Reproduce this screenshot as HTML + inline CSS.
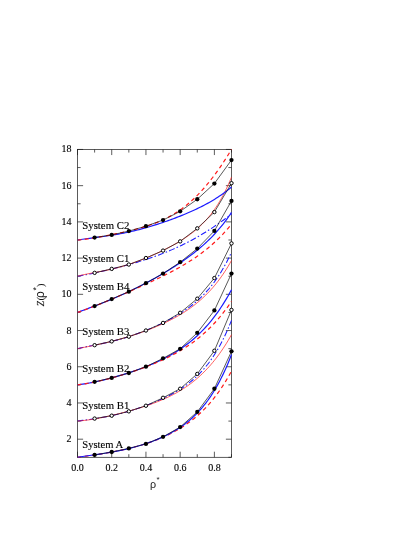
<!DOCTYPE html>
<html><head><meta charset="utf-8"><title>Z(rho*)</title>
<style>html,body{margin:0;padding:0;background:#fff;}body{width:415px;height:537px;overflow:hidden;font-family:"Liberation Serif",serif;}svg{display:block;}</style>
</head><body>
<svg width="415" height="537" viewBox="0 0 415 537" style="will-change:transform">
<rect width="415" height="537" fill="#fff"/>
<clipPath id="c"><rect x="77.50" y="148.95" width="154.79" height="308.85"/></clipPath>
<g stroke="#1c1c1c" stroke-width="0.72" fill="none">
<rect x="77.50" y="149.45" width="153.99" height="307.85"/>
<path d="M77.50,457.30v-5.6 M77.50,149.45v5.6 M94.61,457.30v-3.1 M94.61,149.45v3.1 M111.72,457.30v-5.6 M111.72,149.45v5.6 M128.83,457.30v-3.1 M128.83,149.45v3.1 M145.94,457.30v-5.6 M145.94,149.45v5.6 M163.05,457.30v-3.1 M163.05,149.45v3.1 M180.16,457.30v-5.6 M180.16,149.45v5.6 M197.27,457.30v-3.1 M197.27,149.45v3.1 M214.38,457.30v-5.6 M214.38,149.45v5.6 M231.49,457.30v-3.1 M231.49,149.45v3.1 M77.50,457.30h3.1 M231.49,457.30h-3.1 M77.50,439.19h5.6 M231.49,439.19h-5.6 M77.50,421.08h3.1 M231.49,421.08h-3.1 M77.50,402.97h5.6 M231.49,402.97h-5.6 M77.50,384.86h3.1 M231.49,384.86h-3.1 M77.50,366.76h5.6 M231.49,366.76h-5.6 M77.50,348.65h3.1 M231.49,348.65h-3.1 M77.50,330.54h5.6 M231.49,330.54h-5.6 M77.50,312.43h3.1 M231.49,312.43h-3.1 M77.50,294.32h5.6 M231.49,294.32h-5.6 M77.50,276.21h3.1 M231.49,276.21h-3.1 M77.50,258.10h5.6 M231.49,258.10h-5.6 M77.50,239.99h3.1 M231.49,239.99h-3.1 M77.50,221.89h5.6 M231.49,221.89h-5.6 M77.50,203.78h3.1 M231.49,203.78h-3.1 M77.50,185.67h5.6 M231.49,185.67h-5.6 M77.50,167.56h3.1 M231.49,167.56h-3.1 M77.50,149.45h5.6 M231.49,149.45h-5.6"/>
</g>
<g clip-path="url(#c)" fill="none" stroke-linejoin="round">
<path d="M77.50,457.30 L79.21,457.04 L80.92,456.78 L82.63,456.53 L84.34,456.28 L86.06,456.04 L87.77,455.80 L89.48,455.55 L91.19,455.31 L92.90,455.06 L94.61,454.82 L96.32,454.57 L98.03,454.31 L99.74,454.06 L101.45,453.79 L103.16,453.53 L104.88,453.25 L106.59,452.97 L108.30,452.68 L110.01,452.39 L111.72,452.09 L113.43,451.77 L115.14,451.45 L116.85,451.12 L118.56,450.78 L120.28,450.43 L121.99,450.07 L123.70,449.70 L125.41,449.32 L127.12,448.92 L128.83,448.52 L130.54,448.10 L132.25,447.67 L133.96,447.22 L135.67,446.77 L137.38,446.29 L139.10,445.81 L140.81,445.31 L142.52,444.79 L144.23,444.26 L145.94,443.71 L147.65,443.15 L149.36,442.57 L151.07,441.97 L152.78,441.35 L154.50,440.71 L156.21,440.06 L157.92,439.38 L159.63,438.68 L161.34,437.96 L163.05,437.22 L164.76,436.45 L166.47,435.66 L168.18,434.85 L169.89,434.01 L171.61,433.13 L173.32,432.24 L175.03,431.31 L176.74,430.34 L178.45,429.35 L180.16,428.32 L181.87,427.26 L183.58,426.16 L185.29,425.02 L187.00,423.84 L188.72,422.61 L190.43,421.35 L192.14,420.03 L193.85,418.67 L195.56,417.26 L197.27,415.79 L198.98,414.27 L200.69,412.69 L202.40,411.06 L204.11,409.36 L205.82,407.59 L207.54,405.75 L209.25,403.85 L210.96,401.87 L212.67,399.81 L214.38,397.67 L216.09,395.45 L217.80,393.14 L219.51,390.74 L221.22,388.25 L222.94,385.65 L224.65,382.95 L226.36,380.15 L228.07,377.23 L229.78,374.20 L231.49,371.05" stroke="#ff1a1a" stroke-width="1.2" stroke-dasharray="4 3.2"/>
<path d="M77.50,457.30 L79.21,457.02 L80.92,456.75 L82.63,456.48 L84.34,456.23 L86.06,455.98 L87.77,455.74 L89.48,455.50 L91.19,455.26 L92.90,455.02 L94.61,454.78 L96.32,454.54 L98.03,454.30 L99.74,454.05 L101.45,453.79 L103.16,453.53 L104.88,453.27 L106.59,453.00 L108.30,452.71 L110.01,452.43 L111.72,452.13 L113.43,451.82 L115.14,451.50 L116.85,451.17 L118.56,450.83 L120.28,450.48 L121.99,450.12 L123.70,449.74 L125.41,449.36 L127.12,448.96 L128.83,448.54 L130.54,448.12 L132.25,447.68 L133.96,447.23 L135.67,446.76 L137.38,446.27 L139.10,445.78 L140.81,445.26 L142.52,444.73 L144.23,444.19 L145.94,443.62 L147.65,443.04 L149.36,442.44 L151.07,441.82 L152.78,441.19 L154.50,440.53 L156.21,439.84 L157.92,439.14 L159.63,438.41 L161.34,437.66 L163.05,436.88 L164.76,436.08 L166.47,435.24 L168.18,434.38 L169.89,433.48 L171.61,432.55 L173.32,431.58 L175.03,430.58 L176.74,429.54 L178.45,428.45 L180.16,427.32 L181.87,426.15 L183.58,424.92 L185.29,423.65 L187.00,422.31 L188.72,420.92 L190.43,419.47 L192.14,417.96 L193.85,416.37 L195.56,414.72 L197.27,412.98 L198.98,411.17 L200.69,409.27 L202.40,407.29 L204.11,405.21 L205.82,403.03 L207.54,400.75 L209.25,398.36 L210.96,395.86 L212.67,393.23 L214.38,390.48 L216.09,387.60 L217.80,384.58 L219.51,381.42 L221.22,378.10 L222.94,374.62 L224.65,370.98 L226.36,367.16 L228.07,363.16 L229.78,358.98 L231.49,354.59" stroke="#1a1aff" stroke-width="1.2"/>
<path d="M77.50,421.08 L79.21,420.84 L80.92,420.61 L82.63,420.38 L84.34,420.15 L86.06,419.92 L87.77,419.68 L89.48,419.45 L91.19,419.20 L92.90,418.96 L94.61,418.70 L96.32,418.44 L98.03,418.16 L99.74,417.88 L101.45,417.59 L103.16,417.29 L104.88,416.97 L106.59,416.65 L108.30,416.31 L110.01,415.96 L111.72,415.60 L113.43,415.22 L115.14,414.83 L116.85,414.43 L118.56,414.02 L120.28,413.59 L121.99,413.15 L123.70,412.70 L125.41,412.23 L127.12,411.75 L128.83,411.26 L130.54,410.76 L132.25,410.24 L133.96,409.71 L135.67,409.17 L137.38,408.61 L139.10,408.04 L140.81,407.46 L142.52,406.86 L144.23,406.25 L145.94,405.63 L147.65,405.00 L149.36,404.34 L151.07,403.68 L152.78,403.00 L154.50,402.30 L156.21,401.59 L157.92,400.86 L159.63,400.11 L161.34,399.34 L163.05,398.55 L164.76,397.74 L166.47,396.91 L168.18,396.06 L169.89,395.18 L171.61,394.27 L173.32,393.33 L175.03,392.37 L176.74,391.37 L178.45,390.33 L180.16,389.26 L181.87,388.15 L183.58,387.00 L185.29,385.80 L187.00,384.55 L188.72,383.25 L190.43,381.90 L192.14,380.49 L193.85,379.02 L195.56,377.48 L197.27,375.86 L198.98,374.18 L200.69,372.41 L202.40,370.56 L204.11,368.63 L205.82,366.59 L207.54,364.46 L209.25,362.22 L210.96,359.87 L212.67,357.40 L214.38,354.80 L216.09,352.08 L217.80,349.21 L219.51,346.20 L221.22,343.03 L222.94,339.70 L224.65,336.20 L226.36,332.53 L228.07,328.66 L229.78,324.60 L231.49,320.33" stroke="#1a1aff" stroke-width="1.05" stroke-dasharray="6 2.2 1.5 2.2"/>
<path d="M77.50,421.08 L79.21,420.95 L80.92,420.80 L82.63,420.62 L84.34,420.43 L86.06,420.22 L87.77,419.99 L89.48,419.75 L91.19,419.49 L92.90,419.22 L94.61,418.93 L96.32,418.63 L98.03,418.31 L99.74,417.99 L101.45,417.65 L103.16,417.31 L104.88,416.95 L106.59,416.59 L108.30,416.21 L110.01,415.83 L111.72,415.44 L113.43,415.04 L115.14,414.63 L116.85,414.21 L118.56,413.79 L120.28,413.36 L121.99,412.92 L123.70,412.47 L125.41,412.02 L127.12,411.56 L128.83,411.09 L130.54,410.61 L132.25,410.12 L133.96,409.63 L135.67,409.13 L137.38,408.61 L139.10,408.09 L140.81,407.56 L142.52,407.01 L144.23,406.46 L145.94,405.89 L147.65,405.31 L149.36,404.72 L151.07,404.11 L152.78,403.49 L154.50,402.85 L156.21,402.20 L157.92,401.53 L159.63,400.84 L161.34,400.13 L163.05,399.39 L164.76,398.64 L166.47,397.86 L168.18,397.06 L169.89,396.24 L171.61,395.38 L173.32,394.50 L175.03,393.59 L176.74,392.65 L178.45,391.67 L180.16,390.67 L181.87,389.62 L183.58,388.54 L185.29,387.41 L187.00,386.25 L188.72,385.05 L190.43,383.79 L192.14,382.50 L193.85,381.15 L195.56,379.75 L197.27,378.30 L198.98,376.80 L200.69,375.24 L202.40,373.62 L204.11,371.94 L205.82,370.19 L207.54,368.38 L209.25,366.51 L210.96,364.56 L212.67,362.53 L214.38,360.44 L216.09,358.26 L217.80,356.00 L219.51,353.66 L221.22,351.23 L222.94,348.72 L224.65,346.11 L226.36,343.41 L228.07,340.61 L229.78,337.70 L231.49,334.70" stroke="#ff1a1a" stroke-width="0.7"/>
<path d="M77.50,384.86 L79.21,384.65 L80.92,384.42 L82.63,384.17 L84.34,383.90 L86.06,383.62 L87.77,383.32 L89.48,383.01 L91.19,382.69 L92.90,382.35 L94.61,382.00 L96.32,381.64 L98.03,381.27 L99.74,380.88 L101.45,380.48 L103.16,380.07 L104.88,379.65 L106.59,379.23 L108.30,378.79 L110.01,378.34 L111.72,377.88 L113.43,377.41 L115.14,376.93 L116.85,376.45 L118.56,375.95 L120.28,375.44 L121.99,374.93 L123.70,374.40 L125.41,373.87 L127.12,373.33 L128.83,372.77 L130.54,372.21 L132.25,371.64 L133.96,371.06 L135.67,370.46 L137.38,369.86 L139.10,369.24 L140.81,368.61 L142.52,367.97 L144.23,367.31 L145.94,366.65 L147.65,365.96 L149.36,365.27 L151.07,364.56 L152.78,363.83 L154.50,363.08 L156.21,362.32 L157.92,361.54 L159.63,360.74 L161.34,359.91 L163.05,359.07 L164.76,358.21 L166.47,357.32 L168.18,356.40 L169.89,355.46 L171.61,354.49 L173.32,353.50 L175.03,352.47 L176.74,351.42 L178.45,350.33 L180.16,349.20 L181.87,348.04 L183.58,346.84 L185.29,345.61 L187.00,344.33 L188.72,343.01 L190.43,341.64 L192.14,340.23 L193.85,338.77 L195.56,337.26 L197.27,335.70 L198.98,334.09 L200.69,332.41 L202.40,330.68 L204.11,328.89 L205.82,327.03 L207.54,325.11 L209.25,323.12 L210.96,321.06 L212.67,318.92 L214.38,316.71 L216.09,314.42 L217.80,312.04 L219.51,309.59 L221.22,307.04 L222.94,304.41 L224.65,301.68 L226.36,298.85 L228.07,295.93 L229.78,292.90 L231.49,289.76" stroke="#1a1aff" stroke-width="1.2"/>
<path d="M77.50,384.86 L79.21,384.64 L80.92,384.39 L82.63,384.14 L84.34,383.86 L86.06,383.58 L87.77,383.28 L89.48,382.97 L91.19,382.65 L92.90,382.31 L94.61,381.97 L96.32,381.61 L98.03,381.24 L99.74,380.86 L101.45,380.47 L103.16,380.07 L104.88,379.65 L106.59,379.23 L108.30,378.80 L110.01,378.35 L111.72,377.90 L113.43,377.44 L115.14,376.97 L116.85,376.49 L118.56,376.00 L120.28,375.50 L121.99,374.99 L123.70,374.47 L125.41,373.95 L127.12,373.41 L128.83,372.87 L130.54,372.31 L132.25,371.75 L133.96,371.17 L135.67,370.59 L137.38,370.00 L139.10,369.39 L140.81,368.78 L142.52,368.15 L144.23,367.52 L145.94,366.87 L147.65,366.21 L149.36,365.54 L151.07,364.86 L152.78,364.16 L154.50,363.45 L156.21,362.73 L157.92,361.99 L159.63,361.23 L161.34,360.47 L163.05,359.68 L164.76,358.88 L166.47,358.05 L168.18,357.21 L169.89,356.35 L171.61,355.47 L173.32,354.57 L175.03,353.65 L176.74,352.70 L178.45,351.73 L180.16,350.73 L181.87,349.70 L183.58,348.65 L185.29,347.57 L187.00,346.46 L188.72,345.31 L190.43,344.13 L192.14,342.92 L193.85,341.67 L195.56,340.38 L197.27,339.06 L198.98,337.69 L200.69,336.28 L202.40,334.83 L204.11,333.32 L205.82,331.77 L207.54,330.18 L209.25,328.52 L210.96,326.82 L212.67,325.06 L214.38,323.24 L216.09,321.36 L217.80,319.41 L219.51,317.40 L221.22,315.33 L222.94,313.18 L224.65,310.96 L226.36,308.66 L228.07,306.29 L229.78,303.84 L231.49,301.30" stroke="#ff1a1a" stroke-width="1.2" stroke-dasharray="4 3.2"/>
<path d="M77.50,348.65 L79.21,348.25 L80.92,347.87 L82.63,347.51 L84.34,347.15 L86.06,346.81 L87.77,346.47 L89.48,346.13 L91.19,345.79 L92.90,345.46 L94.61,345.13 L96.32,344.79 L98.03,344.45 L99.74,344.10 L101.45,343.75 L103.16,343.38 L104.88,343.01 L106.59,342.64 L108.30,342.25 L110.01,341.85 L111.72,341.44 L113.43,341.01 L115.14,340.58 L116.85,340.13 L118.56,339.67 L120.28,339.20 L121.99,338.72 L123.70,338.22 L125.41,337.70 L127.12,337.18 L128.83,336.64 L130.54,336.09 L132.25,335.52 L133.96,334.94 L135.67,334.34 L137.38,333.74 L139.10,333.11 L140.81,332.48 L142.52,331.83 L144.23,331.17 L145.94,330.49 L147.65,329.80 L149.36,329.10 L151.07,328.38 L152.78,327.64 L154.50,326.89 L156.21,326.13 L157.92,325.35 L159.63,324.56 L161.34,323.74 L163.05,322.92 L164.76,322.07 L166.47,321.20 L168.18,320.32 L169.89,319.41 L171.61,318.48 L173.32,317.53 L175.03,316.55 L176.74,315.55 L178.45,314.52 L180.16,313.46 L181.87,312.37 L183.58,311.24 L185.29,310.08 L187.00,308.88 L188.72,307.64 L190.43,306.36 L192.14,305.03 L193.85,303.66 L195.56,302.23 L197.27,300.74 L198.98,299.20 L200.69,297.59 L202.40,295.92 L204.11,294.17 L205.82,292.35 L207.54,290.45 L209.25,288.47 L210.96,286.39 L212.67,284.22 L214.38,281.94 L216.09,279.56 L217.80,277.07 L219.51,274.46 L221.22,271.72 L222.94,268.84 L224.65,265.83 L226.36,262.67 L228.07,259.35 L229.78,255.88 L231.49,252.22" stroke="#1a1aff" stroke-width="1.05" stroke-dasharray="6 2.2 1.5 2.2"/>
<path d="M77.50,348.65 L79.21,348.31 L80.92,347.98 L82.63,347.64 L84.34,347.31 L86.06,346.97 L87.77,346.63 L89.48,346.29 L91.19,345.95 L92.90,345.60 L94.61,345.25 L96.32,344.89 L98.03,344.52 L99.74,344.15 L101.45,343.78 L103.16,343.39 L104.88,343.00 L106.59,342.60 L108.30,342.19 L110.01,341.77 L111.72,341.34 L113.43,340.91 L115.14,340.46 L116.85,340.01 L118.56,339.55 L120.28,339.07 L121.99,338.59 L123.70,338.10 L125.41,337.59 L127.12,337.08 L128.83,336.56 L130.54,336.02 L132.25,335.48 L133.96,334.92 L135.67,334.36 L137.38,333.78 L139.10,333.19 L140.81,332.59 L142.52,331.98 L144.23,331.36 L145.94,330.72 L147.65,330.07 L149.36,329.41 L151.07,328.74 L152.78,328.05 L154.50,327.35 L156.21,326.63 L157.92,325.90 L159.63,325.15 L161.34,324.39 L163.05,323.61 L164.76,322.81 L166.47,322.00 L168.18,321.16 L169.89,320.30 L171.61,319.42 L173.32,318.52 L175.03,317.60 L176.74,316.65 L178.45,315.67 L180.16,314.67 L181.87,313.63 L183.58,312.57 L185.29,311.47 L187.00,310.34 L188.72,309.18 L190.43,307.97 L192.14,306.73 L193.85,305.44 L195.56,304.11 L197.27,302.73 L198.98,301.30 L200.69,299.82 L202.40,298.28 L204.11,296.69 L205.82,295.03 L207.54,293.31 L209.25,291.53 L210.96,289.67 L212.67,287.74 L214.38,285.74 L216.09,283.65 L217.80,281.47 L219.51,279.21 L221.22,276.85 L222.94,274.40 L224.65,271.84 L226.36,269.18 L228.07,266.40 L229.78,263.51 L231.49,260.50" stroke="#ff1a1a" stroke-width="0.7"/>
<path d="M77.50,312.43 L79.21,311.78 L80.92,311.13 L82.63,310.48 L84.34,309.84 L86.06,309.20 L87.77,308.57 L89.48,307.93 L91.19,307.29 L92.90,306.65 L94.61,306.00 L96.32,305.35 L98.03,304.70 L99.74,304.04 L101.45,303.37 L103.16,302.70 L104.88,302.02 L106.59,301.33 L108.30,300.64 L110.01,299.94 L111.72,299.23 L113.43,298.51 L115.14,297.78 L116.85,297.04 L118.56,296.29 L120.28,295.54 L121.99,294.77 L123.70,294.00 L125.41,293.21 L127.12,292.42 L128.83,291.62 L130.54,290.80 L132.25,289.98 L133.96,289.15 L135.67,288.31 L137.38,287.45 L139.10,286.59 L140.81,285.72 L142.52,284.84 L144.23,283.95 L145.94,283.06 L147.65,282.15 L149.36,281.23 L151.07,280.30 L152.78,279.36 L154.50,278.42 L156.21,277.46 L157.92,276.49 L159.63,275.51 L161.34,274.52 L163.05,273.52 L164.76,272.51 L166.47,271.48 L168.18,270.45 L169.89,269.40 L171.61,268.34 L173.32,267.26 L175.03,266.17 L176.74,265.06 L178.45,263.94 L180.16,262.80 L181.87,261.64 L183.58,260.46 L185.29,259.26 L187.00,258.04 L188.72,256.80 L190.43,255.53 L192.14,254.24 L193.85,252.92 L195.56,251.57 L197.27,250.19 L198.98,248.78 L200.69,247.33 L202.40,245.85 L204.11,244.33 L205.82,242.76 L207.54,241.16 L209.25,239.51 L210.96,237.80 L212.67,236.05 L214.38,234.24 L216.09,232.38 L217.80,230.45 L219.51,228.47 L221.22,226.41 L222.94,224.28 L224.65,222.08 L226.36,219.80 L228.07,217.44 L229.78,214.99 L231.49,212.45" stroke="#1a1aff" stroke-width="1.2"/>
<path d="M77.50,312.43 L79.21,311.83 L80.92,311.23 L82.63,310.61 L84.34,309.99 L86.06,309.36 L87.77,308.72 L89.48,308.08 L91.19,307.43 L92.90,306.77 L94.61,306.10 L96.32,305.43 L98.03,304.76 L99.74,304.07 L101.45,303.39 L103.16,302.69 L104.88,302.00 L106.59,301.29 L108.30,300.59 L110.01,299.88 L111.72,299.16 L113.43,298.44 L115.14,297.72 L116.85,297.00 L118.56,296.27 L120.28,295.54 L121.99,294.80 L123.70,294.06 L125.41,293.32 L127.12,292.58 L128.83,291.83 L130.54,291.08 L132.25,290.32 L133.96,289.56 L135.67,288.80 L137.38,288.04 L139.10,287.27 L140.81,286.50 L142.52,285.73 L144.23,284.95 L145.94,284.16 L147.65,283.38 L149.36,282.58 L151.07,281.79 L152.78,280.98 L154.50,280.17 L156.21,279.36 L157.92,278.53 L159.63,277.71 L161.34,276.87 L163.05,276.02 L164.76,275.17 L166.47,274.30 L168.18,273.43 L169.89,272.55 L171.61,271.65 L173.32,270.74 L175.03,269.82 L176.74,268.88 L178.45,267.93 L180.16,266.97 L181.87,265.98 L183.58,264.98 L185.29,263.96 L187.00,262.92 L188.72,261.86 L190.43,260.78 L192.14,259.67 L193.85,258.54 L195.56,257.39 L197.27,256.20 L198.98,254.99 L200.69,253.74 L202.40,252.47 L204.11,251.16 L205.82,249.81 L207.54,248.43 L209.25,247.01 L210.96,245.55 L212.67,244.05 L214.38,242.51 L216.09,240.91 L217.80,239.27 L219.51,237.58 L221.22,235.84 L222.94,234.04 L224.65,232.19 L226.36,230.28 L228.07,228.31 L229.78,226.27 L231.49,224.16" stroke="#ff1a1a" stroke-width="1.2" stroke-dasharray="4 3.2"/>
<path d="M77.50,276.21 L79.21,275.92 L80.92,275.61 L82.63,275.30 L84.34,274.99 L86.06,274.66 L87.77,274.33 L89.48,273.99 L91.19,273.64 L92.90,273.29 L94.61,272.93 L96.32,272.56 L98.03,272.19 L99.74,271.82 L101.45,271.44 L103.16,271.05 L104.88,270.66 L106.59,270.26 L108.30,269.86 L110.01,269.45 L111.72,269.04 L113.43,268.62 L115.14,268.20 L116.85,267.77 L118.56,267.34 L120.28,266.90 L121.99,266.45 L123.70,266.00 L125.41,265.54 L127.12,265.08 L128.83,264.60 L130.54,264.13 L132.25,263.64 L133.96,263.15 L135.67,262.65 L137.38,262.14 L139.10,261.62 L140.81,261.10 L142.52,260.57 L144.23,260.02 L145.94,259.47 L147.65,258.91 L149.36,258.34 L151.07,257.76 L152.78,257.17 L154.50,256.56 L156.21,255.95 L157.92,255.32 L159.63,254.69 L161.34,254.04 L163.05,253.37 L164.76,252.70 L166.47,252.01 L168.18,251.31 L169.89,250.59 L171.61,249.86 L173.32,249.12 L175.03,248.36 L176.74,247.59 L178.45,246.80 L180.16,246.00 L181.87,245.18 L183.58,244.34 L185.29,243.49 L187.00,242.63 L188.72,241.74 L190.43,240.84 L192.14,239.92 L193.85,238.99 L195.56,238.04 L197.27,237.07 L198.98,236.08 L200.69,235.08 L202.40,234.06 L204.11,233.02 L205.82,231.96 L207.54,230.89 L209.25,229.80 L210.96,228.69 L212.67,227.57 L214.38,226.43 L216.09,225.27 L217.80,224.09 L219.51,222.90 L221.22,221.69 L222.94,220.46 L224.65,219.22 L226.36,217.96 L228.07,216.69 L229.78,215.40 L231.49,214.10" stroke="#1a1aff" stroke-width="1.05" stroke-dasharray="6 2.2 1.5 2.2"/>
<path d="M77.50,276.21 L79.21,275.75 L80.92,275.32 L82.63,274.92 L84.34,274.55 L86.06,274.19 L87.77,273.85 L89.48,273.52 L91.19,273.19 L92.90,272.88 L94.61,272.56 L96.32,272.25 L98.03,271.94 L99.74,271.62 L101.45,271.29 L103.16,270.96 L104.88,270.62 L106.59,270.27 L108.30,269.91 L110.01,269.53 L111.72,269.14 L113.43,268.74 L115.14,268.32 L116.85,267.88 L118.56,267.43 L120.28,266.96 L121.99,266.48 L123.70,265.98 L125.41,265.46 L127.12,264.93 L128.83,264.38 L130.54,263.82 L132.25,263.23 L133.96,262.64 L135.67,262.03 L137.38,261.40 L139.10,260.76 L140.81,260.10 L142.52,259.43 L144.23,258.74 L145.94,258.05 L147.65,257.33 L149.36,256.61 L151.07,255.87 L152.78,255.12 L154.50,254.36 L156.21,253.58 L157.92,252.79 L159.63,251.99 L161.34,251.17 L163.05,250.34 L164.76,249.49 L166.47,248.63 L168.18,247.75 L169.89,246.86 L171.61,245.95 L173.32,245.01 L175.03,244.06 L176.74,243.08 L178.45,242.08 L180.16,241.05 L181.87,239.99 L183.58,238.90 L185.29,237.78 L187.00,236.62 L188.72,235.42 L190.43,234.18 L192.14,232.89 L193.85,231.54 L195.56,230.14 L197.27,228.69 L198.98,227.16 L200.69,225.57 L202.40,223.90 L204.11,222.16 L205.82,220.32 L207.54,218.39 L209.25,216.36 L210.96,214.23 L212.67,211.98 L214.38,209.60 L216.09,207.10 L217.80,204.46 L219.51,201.67 L221.22,198.72 L222.94,195.60 L224.65,192.31 L226.36,188.83 L228.07,185.15 L229.78,181.26 L231.49,177.14" stroke="#ff1a1a" stroke-width="0.7"/>
<path d="M77.50,239.99 L79.21,239.73 L80.92,239.47 L82.63,239.23 L84.34,238.99 L86.06,238.76 L87.77,238.53 L89.48,238.31 L91.19,238.09 L92.90,237.87 L94.61,237.65 L96.32,237.43 L98.03,237.21 L99.74,236.98 L101.45,236.75 L103.16,236.52 L104.88,236.28 L106.59,236.03 L108.30,235.77 L110.01,235.51 L111.72,235.24 L113.43,234.96 L115.14,234.67 L116.85,234.37 L118.56,234.06 L120.28,233.75 L121.99,233.42 L123.70,233.08 L125.41,232.73 L127.12,232.37 L128.83,232.00 L130.54,231.62 L132.25,231.23 L133.96,230.83 L135.67,230.41 L137.38,229.99 L139.10,229.55 L140.81,229.11 L142.52,228.65 L144.23,228.18 L145.94,227.71 L147.65,227.22 L149.36,226.72 L151.07,226.21 L152.78,225.69 L154.50,225.17 L156.21,224.63 L157.92,224.08 L159.63,223.52 L161.34,222.96 L163.05,222.38 L164.76,221.79 L166.47,221.20 L168.18,220.59 L169.89,219.98 L171.61,219.35 L173.32,218.72 L175.03,218.07 L176.74,217.42 L178.45,216.75 L180.16,216.08 L181.87,215.39 L183.58,214.69 L185.29,213.98 L187.00,213.26 L188.72,212.52 L190.43,211.77 L192.14,211.01 L193.85,210.23 L195.56,209.44 L197.27,208.63 L198.98,207.80 L200.69,206.95 L202.40,206.09 L204.11,205.21 L205.82,204.30 L207.54,203.37 L209.25,202.42 L210.96,201.44 L212.67,200.43 L214.38,199.40 L216.09,198.34 L217.80,197.24 L219.51,196.11 L221.22,194.94 L222.94,193.74 L224.65,192.49 L226.36,191.21 L228.07,189.87 L229.78,188.49 L231.49,187.06" stroke="#1a1aff" stroke-width="1.2"/>
<path d="M77.50,239.99 L79.21,239.88 L80.92,239.73 L82.63,239.56 L84.34,239.37 L86.06,239.16 L87.77,238.93 L89.48,238.68 L91.19,238.42 L92.90,238.15 L94.61,237.86 L96.32,237.57 L98.03,237.27 L99.74,236.96 L101.45,236.64 L103.16,236.32 L104.88,235.99 L106.59,235.66 L108.30,235.32 L110.01,234.98 L111.72,234.63 L113.43,234.28 L115.14,233.93 L116.85,233.57 L118.56,233.21 L120.28,232.85 L121.99,232.48 L123.70,232.10 L125.41,231.72 L127.12,231.33 L128.83,230.94 L130.54,230.54 L132.25,230.12 L133.96,229.70 L135.67,229.27 L137.38,228.82 L139.10,228.36 L140.81,227.89 L142.52,227.40 L144.23,226.90 L145.94,226.37 L147.65,225.83 L149.36,225.27 L151.07,224.68 L152.78,224.07 L154.50,223.44 L156.21,222.78 L157.92,222.09 L159.63,221.37 L161.34,220.62 L163.05,219.84 L164.76,219.03 L166.47,218.18 L168.18,217.30 L169.89,216.37 L171.61,215.41 L173.32,214.40 L175.03,213.36 L176.74,212.27 L178.45,211.13 L180.16,209.95 L181.87,208.73 L183.58,207.45 L185.29,206.12 L187.00,204.75 L188.72,203.32 L190.43,201.84 L192.14,200.31 L193.85,198.72 L195.56,197.07 L197.27,195.38 L198.98,193.62 L200.69,191.81 L202.40,189.94 L204.11,188.01 L205.82,186.03 L207.54,183.98 L209.25,181.88 L210.96,179.72 L212.67,177.50 L214.38,175.23 L216.09,172.89 L217.80,170.51 L219.51,168.06 L221.22,165.56 L222.94,163.00 L224.65,160.39 L226.36,157.73 L228.07,155.02 L229.78,152.26 L231.49,149.45" stroke="#ff1a1a" stroke-width="1.2" stroke-dasharray="4 3.2"/>
</g>
<path d="M94.61,454.91 L111.72,452.02 L128.83,448.40 L145.94,443.88 L163.05,436.83 L180.16,427.07 L197.27,411.88 L214.38,388.74 L231.49,351.31" stroke="#111" stroke-width="0.7" fill="none"/>
<circle cx="94.61" cy="454.91" r="2.15" fill="#000"/>
<circle cx="111.72" cy="452.02" r="2.15" fill="#000"/>
<circle cx="128.83" cy="448.40" r="2.15" fill="#000"/>
<circle cx="145.94" cy="443.88" r="2.15" fill="#000"/>
<circle cx="163.05" cy="436.83" r="2.15" fill="#000"/>
<circle cx="180.16" cy="427.07" r="2.15" fill="#000"/>
<circle cx="197.27" cy="411.88" r="2.15" fill="#000"/>
<circle cx="214.38" cy="388.74" r="2.15" fill="#000"/>
<circle cx="231.49" cy="351.31" r="2.15" fill="#000"/>
<path d="M94.61,418.57 L111.72,415.68 L128.83,411.34 L145.94,405.73 L163.05,397.78 L180.16,388.74 L197.27,373.91 L214.38,350.77 L231.49,309.91" stroke="#111" stroke-width="0.7" fill="none"/>
<circle cx="94.61" cy="418.57" r="1.7" fill="#fff" stroke="#000" stroke-width="1.0"/>
<circle cx="111.72" cy="415.68" r="1.7" fill="#fff" stroke="#000" stroke-width="1.0"/>
<circle cx="128.83" cy="411.34" r="1.7" fill="#fff" stroke="#000" stroke-width="1.0"/>
<circle cx="145.94" cy="405.73" r="1.7" fill="#fff" stroke="#000" stroke-width="1.0"/>
<circle cx="163.05" cy="397.78" r="1.7" fill="#fff" stroke="#000" stroke-width="1.0"/>
<circle cx="180.16" cy="388.74" r="1.7" fill="#fff" stroke="#000" stroke-width="1.0"/>
<circle cx="197.27" cy="373.91" r="1.7" fill="#fff" stroke="#000" stroke-width="1.0"/>
<circle cx="214.38" cy="350.77" r="1.7" fill="#fff" stroke="#000" stroke-width="1.0"/>
<circle cx="231.49" cy="309.91" r="1.7" fill="#fff" stroke="#000" stroke-width="1.0"/>
<path d="M94.61,381.87 L111.72,377.89 L128.83,373.01 L145.94,366.68 L163.05,358.36 L180.16,348.78 L197.27,332.87 L214.38,310.45 L231.49,273.57" stroke="#111" stroke-width="0.7" fill="none"/>
<circle cx="94.61" cy="381.87" r="2.15" fill="#000"/>
<circle cx="111.72" cy="377.89" r="2.15" fill="#000"/>
<circle cx="128.83" cy="373.01" r="2.15" fill="#000"/>
<circle cx="145.94" cy="366.68" r="2.15" fill="#000"/>
<circle cx="163.05" cy="358.36" r="2.15" fill="#000"/>
<circle cx="180.16" cy="348.78" r="2.15" fill="#000"/>
<circle cx="197.27" cy="332.87" r="2.15" fill="#000"/>
<circle cx="214.38" cy="310.45" r="2.15" fill="#000"/>
<circle cx="231.49" cy="273.57" r="2.15" fill="#000"/>
<path d="M94.61,345.17 L111.72,341.37 L128.83,336.67 L145.94,330.52 L163.05,322.93 L180.16,312.80 L197.27,298.70 L214.38,278.09 L231.49,243.38" stroke="#111" stroke-width="0.7" fill="none"/>
<circle cx="94.61" cy="345.17" r="1.7" fill="#fff" stroke="#000" stroke-width="1.0"/>
<circle cx="111.72" cy="341.37" r="1.7" fill="#fff" stroke="#000" stroke-width="1.0"/>
<circle cx="128.83" cy="336.67" r="1.7" fill="#fff" stroke="#000" stroke-width="1.0"/>
<circle cx="145.94" cy="330.52" r="1.7" fill="#fff" stroke="#000" stroke-width="1.0"/>
<circle cx="163.05" cy="322.93" r="1.7" fill="#fff" stroke="#000" stroke-width="1.0"/>
<circle cx="180.16" cy="312.80" r="1.7" fill="#fff" stroke="#000" stroke-width="1.0"/>
<circle cx="197.27" cy="298.70" r="1.7" fill="#fff" stroke="#000" stroke-width="1.0"/>
<circle cx="214.38" cy="278.09" r="1.7" fill="#fff" stroke="#000" stroke-width="1.0"/>
<circle cx="231.49" cy="243.38" r="1.7" fill="#fff" stroke="#000" stroke-width="1.0"/>
<path d="M94.61,306.11 L111.72,299.06 L128.83,291.65 L145.94,283.15 L163.05,273.57 L180.16,262.18 L197.27,248.62 L214.38,230.90 L231.49,200.89" stroke="#111" stroke-width="0.7" fill="none"/>
<circle cx="94.61" cy="306.11" r="2.15" fill="#000"/>
<circle cx="111.72" cy="299.06" r="2.15" fill="#000"/>
<circle cx="128.83" cy="291.65" r="2.15" fill="#000"/>
<circle cx="145.94" cy="283.15" r="2.15" fill="#000"/>
<circle cx="163.05" cy="273.57" r="2.15" fill="#000"/>
<circle cx="180.16" cy="262.18" r="2.15" fill="#000"/>
<circle cx="197.27" cy="248.62" r="2.15" fill="#000"/>
<circle cx="214.38" cy="230.90" r="2.15" fill="#000"/>
<circle cx="231.49" cy="200.89" r="2.15" fill="#000"/>
<path d="M94.61,272.85 L111.72,268.87 L128.83,264.53 L145.94,258.02 L163.05,250.61 L180.16,241.39 L197.27,228.37 L214.38,212.10 L231.49,183.17" stroke="#111" stroke-width="0.7" fill="none"/>
<circle cx="94.61" cy="272.85" r="1.7" fill="#fff" stroke="#000" stroke-width="1.0"/>
<circle cx="111.72" cy="268.87" r="1.7" fill="#fff" stroke="#000" stroke-width="1.0"/>
<circle cx="128.83" cy="264.53" r="1.7" fill="#fff" stroke="#000" stroke-width="1.0"/>
<circle cx="145.94" cy="258.02" r="1.7" fill="#fff" stroke="#000" stroke-width="1.0"/>
<circle cx="163.05" cy="250.61" r="1.7" fill="#fff" stroke="#000" stroke-width="1.0"/>
<circle cx="180.16" cy="241.39" r="1.7" fill="#fff" stroke="#000" stroke-width="1.0"/>
<circle cx="197.27" cy="228.37" r="1.7" fill="#fff" stroke="#000" stroke-width="1.0"/>
<circle cx="214.38" cy="212.10" r="1.7" fill="#fff" stroke="#000" stroke-width="1.0"/>
<circle cx="231.49" cy="183.17" r="1.7" fill="#fff" stroke="#000" stroke-width="1.0"/>
<path d="M94.61,237.59 L111.72,234.88 L128.83,231.08 L145.94,226.20 L163.05,220.05 L180.16,211.37 L197.27,199.26 L214.38,183.53 L231.49,160.03" stroke="#111" stroke-width="0.7" fill="none"/>
<circle cx="94.61" cy="237.59" r="2.15" fill="#000"/>
<circle cx="111.72" cy="234.88" r="2.15" fill="#000"/>
<circle cx="128.83" cy="231.08" r="2.15" fill="#000"/>
<circle cx="145.94" cy="226.20" r="2.15" fill="#000"/>
<circle cx="163.05" cy="220.05" r="2.15" fill="#000"/>
<circle cx="180.16" cy="211.37" r="2.15" fill="#000"/>
<circle cx="197.27" cy="199.26" r="2.15" fill="#000"/>
<circle cx="214.38" cy="183.53" r="2.15" fill="#000"/>
<circle cx="231.49" cy="160.03" r="2.15" fill="#000"/>
<g font-family="'Liberation Serif', serif" fill="#000" stroke="#000" stroke-width="0.12">
<text x="82.3" y="447.5" font-size="10.2" textLength="40.8" lengthAdjust="spacingAndGlyphs">System A</text>
<text x="82.3" y="409.4" font-size="10.2" textLength="47.0" lengthAdjust="spacingAndGlyphs">System B1</text>
<text x="82.3" y="371.8" font-size="10.2" textLength="47.0" lengthAdjust="spacingAndGlyphs">System B2</text>
<text x="82.3" y="335.0" font-size="10.2" textLength="47.0" lengthAdjust="spacingAndGlyphs">System B3</text>
<text x="82.3" y="289.9" font-size="10.2" textLength="47.0" lengthAdjust="spacingAndGlyphs">System B4</text>
<text x="82.3" y="262.2" font-size="10.2" textLength="47.0" lengthAdjust="spacingAndGlyphs">System C1</text>
<text x="82.3" y="229.2" font-size="10.2" textLength="47.0" lengthAdjust="spacingAndGlyphs">System C2</text>
<text x="77.50" y="470.7" font-size="10" text-anchor="middle">0.0</text>
<text x="111.72" y="470.7" font-size="10" text-anchor="middle">0.2</text>
<text x="145.94" y="470.7" font-size="10" text-anchor="middle">0.4</text>
<text x="180.16" y="470.7" font-size="10" text-anchor="middle">0.6</text>
<text x="214.38" y="470.7" font-size="10" text-anchor="middle">0.8</text>
<text x="71.6" y="442.19" font-size="10" text-anchor="end">2</text>
<text x="71.6" y="405.97" font-size="10" text-anchor="end">4</text>
<text x="71.6" y="369.76" font-size="10" text-anchor="end">6</text>
<text x="71.6" y="333.54" font-size="10" text-anchor="end">8</text>
<text x="71.6" y="297.32" font-size="10" text-anchor="end">10</text>
<text x="71.6" y="261.10" font-size="10" text-anchor="end">12</text>
<text x="71.6" y="224.89" font-size="10" text-anchor="end">14</text>
<text x="71.6" y="188.67" font-size="10" text-anchor="end">16</text>
<text x="71.6" y="152.45" font-size="10" text-anchor="end">18</text>
</g>
<text x="150" y="488" font-family="'Liberation Sans', sans-serif" font-size="10.7" fill="#1a1a1a">ρ</text>
<text x="156.4" y="482.2" font-family="'Liberation Sans', sans-serif" font-size="8" fill="#1a1a1a">*</text>
<g transform="translate(44.3,306.3) rotate(-90)" fill="#111"><text x="0" y="0" font-family="'Liberation Serif', serif" font-style="italic" font-size="9.5" stroke="#111" stroke-width="0.15">Z</text><text x="5.8" y="0" font-family="'Liberation Serif', serif" font-size="11.4">(</text><text x="8.3" y="0" font-family="'Liberation Sans', sans-serif" font-size="12">ρ</text><text x="15.85" y="-4.95" font-family="'Liberation Sans', sans-serif" font-size="8.5">*</text><text x="19.0" y="0" font-family="'Liberation Serif', serif" font-size="11.4">)</text></g>
</svg>
</body></html>
